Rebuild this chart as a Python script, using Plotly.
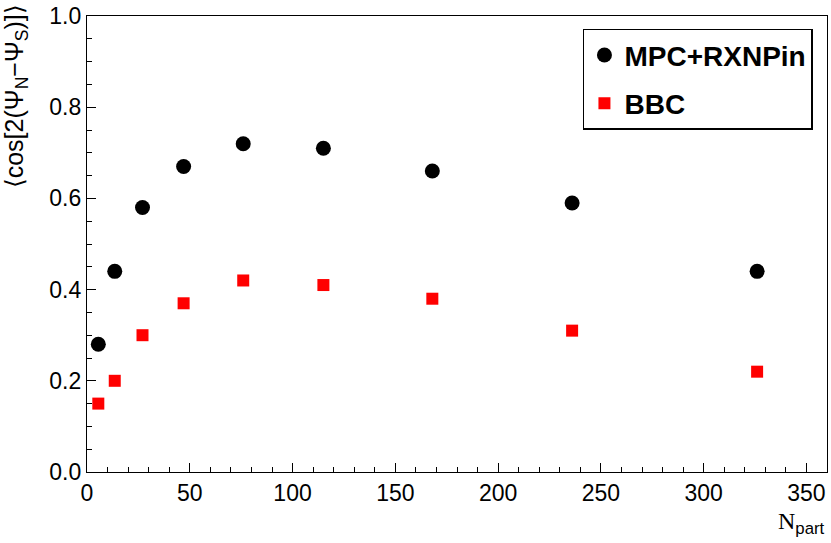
import plotly.graph_objects as go

# N_part centrality bins
npart = [5.5, 13.5, 27, 47, 76, 115, 168, 236, 326]

# resolution, MPC+RXNPin and BBC
res_mpc = [0.28, 0.44, 0.58, 0.67, 0.72, 0.71, 0.66, 0.59, 0.44]
res_bbc = [0.15, 0.20, 0.30, 0.37, 0.42, 0.41, 0.38, 0.31, 0.22]

x_ticks = [0, 50, 100, 150, 200, 250, 300, 350]
y_ticks = [0.0, 0.2, 0.4, 0.6, 0.8, 1.0]

sans = "Liberation Sans, Arial, Helvetica, sans-serif"

fig = go.Figure()
fig.add_trace(go.Scatter(
    x=npart, y=res_mpc, mode="markers", name="MPC+RXNPin", legendgroup="mpc",
    marker=dict(symbol="circle", size=15, color="black"),
))
fig.add_trace(go.Scatter(
    x=npart, y=res_bbc, mode="markers", name="BBC", legendgroup="bbc",
    marker=dict(symbol="square", size=12, color="#ff0000"),
))

axis_common = dict(
    showgrid=False, zeroline=False,
    showline=True, linecolor="black", linewidth=1.2, mirror=True,
    ticks="inside", tickcolor="black", tickwidth=1.2,
    tickfont=dict(family=sans, size=23, color="black"),
    automargin=False,
)

fig.update_xaxes(
    range=[0, 360], tickvals=x_ticks, ticklen=9,
    minor=dict(dtick=10, ticks="inside", ticklen=5, tickcolor="black", tickwidth=1),
    **axis_common,
)
fig.update_yaxes(
    range=[0, 1.0], tickvals=y_ticks, tickformat=".1f", ticklen=9,
    minor=dict(dtick=0.05, ticks="inside", ticklen=5, tickcolor="black", tickwidth=1),
    **axis_common,
)

# axis titles placed like the original (ROOT style)
fig.add_annotation(
    xref="paper", yref="paper", x=1.0, y=-0.075, xanchor="right", yanchor="top",
    text="<span style='font-family:Liberation Serif, Times New Roman, serif'>N</span><sub>part</sub>",
    showarrow=False, font=dict(family=sans, size=24, color="black"),
)
fig.add_annotation(
    xref="paper", yref="paper", x=-0.096, y=1.03, xanchor="center", yanchor="top",
    textangle=-90,
    text="⟨cos[2(Ψ<sub>N</sub>−Ψ<sub>S</sub>)]⟩",
    showarrow=False, font=dict(family=sans, size=25, color="black"),
)

fig.update_layout(
    width=831, height=543,
    margin=dict(l=87, r=4, t=16, b=71),
    plot_bgcolor="white", paper_bgcolor="white",
    legend=dict(
        x=0.981, y=0.972, xanchor="right", yanchor="top",
        bordercolor="black", borderwidth=1.5, bgcolor="white",
        font=dict(family=sans, size=28, color="black", weight="bold"),
        traceorder="grouped", tracegroupgap=9,
    ),
)

fig.write_html("out.html", config={"displayModeBar": False},
               post_script="document.body.style.margin='0';")
